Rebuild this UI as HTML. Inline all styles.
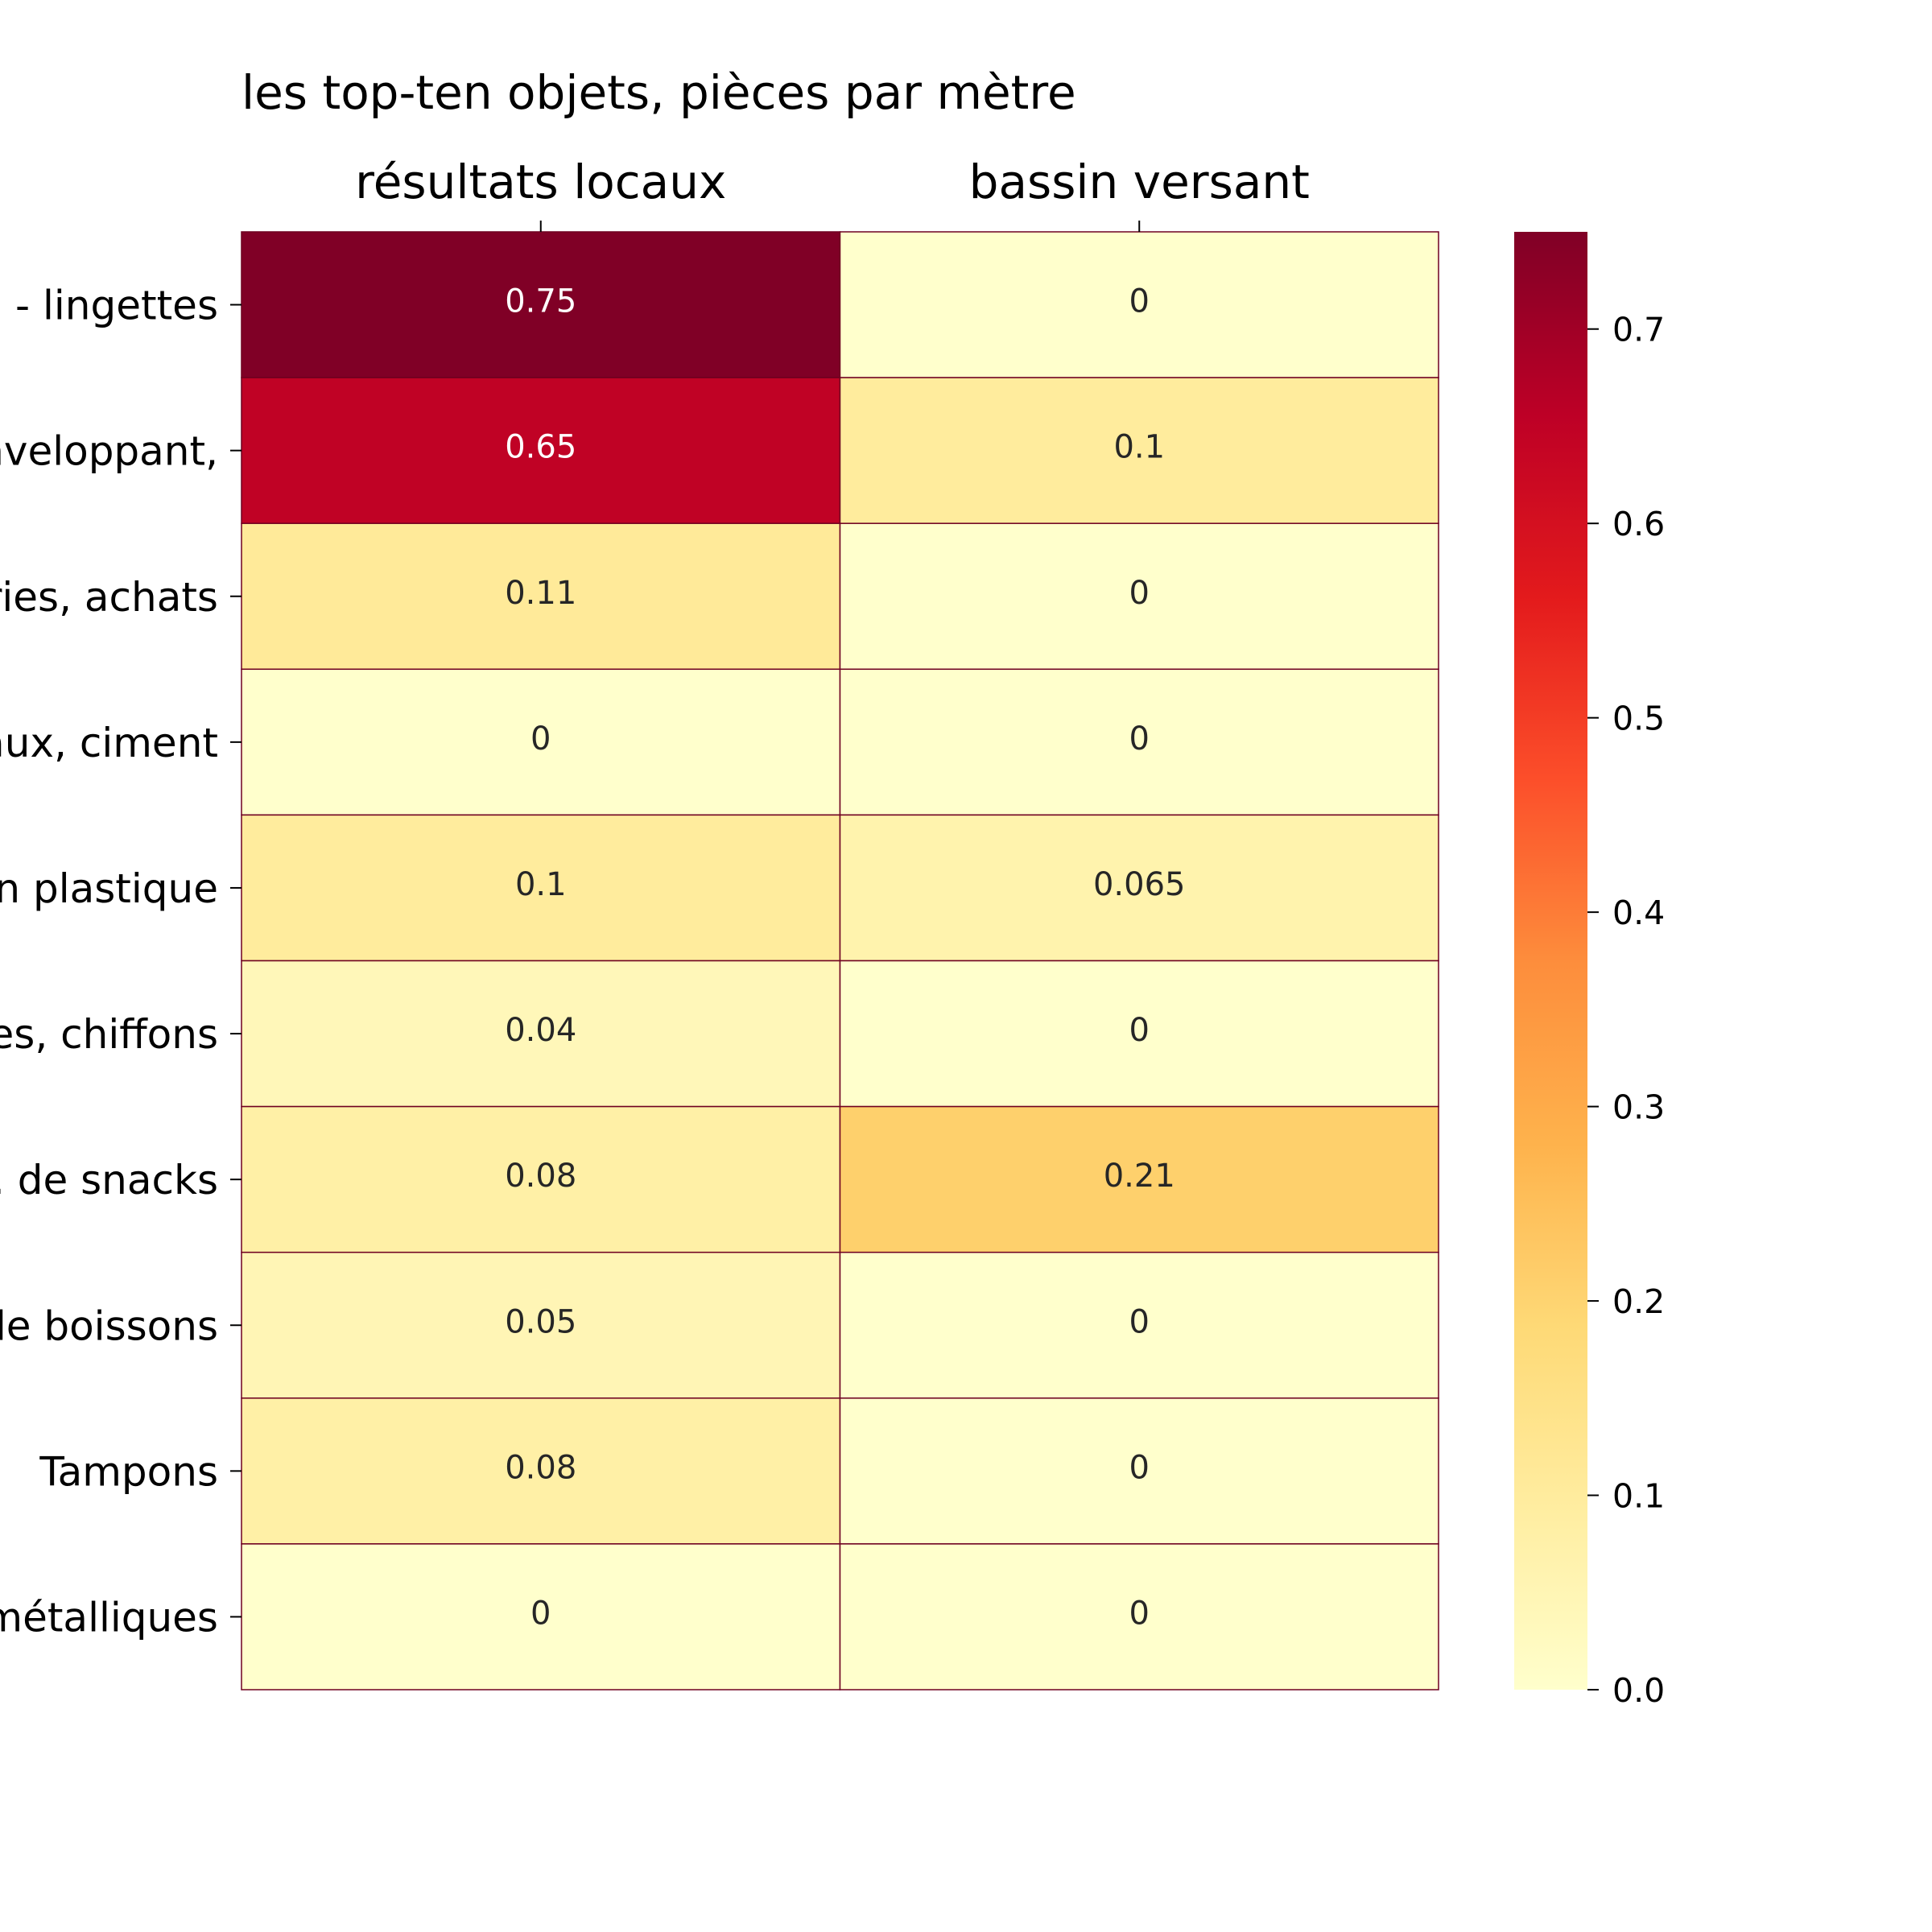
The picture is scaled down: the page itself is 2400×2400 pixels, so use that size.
<!DOCTYPE html>
<html><head><meta charset="utf-8"><style>
html,body{margin:0;padding:0;background:#fff;}
svg{display:block;font-family:"DejaVu Sans","Liberation Sans",sans-serif;}
</style></head><body>
<svg id="chart" width="2400" height="2400" viewBox="0 0 2400 2400" xmlns="http://www.w3.org/2000/svg">
<text x="300" y="135" font-size="58" fill="#000">les top-ten objets, pièces par mètre</text>
<g id="cells"></g>
<g id="axes"></g>
<g id="cbar"></g>
</svg>
<script>
const categories = ["Lingettes humides\u00a0\u00a0\u00a0- lingettes","Plastique d'emballage enveloppant,","Sacs en plastique, épiceries, achats","Matériaux de construction: matériaux, ciment","Fragments en plastique","Tissus, serviettes, chiffons","Emballages de bonbons. de snacks","Bouchons de boissons","Tampons","Capsules métalliques"];
const columns = ["résultats locaux","bassin versant"];
const localValues = [0.75,0.65,0.11,0,0.1,0.04,0.08,0.05,0.08,0];
const basinValues = [0,0.1,0,0,0.065,0,0.21,0,0,0];
const cbarTicks = [0.0,0.1,0.2,0.3,0.4,0.5,0.6,0.7];
const vmin = 0, vmax = 0.75;

const NS="http://www.w3.org/2000/svg";
const L=300,R=1787,T=288,B=2099;
const rowH=(B-T)/categories.length, colW=(R-L)/columns.length;
const yRow=i=>T+i*rowH, xCol=j=>L+j*colW;
const stops=["#ffffcc","#ffeda0","#fed976","#feb24c","#fd8d3c","#fc4e2a","#e31a1c","#bd0026","#800026"];
function hex(h){return [1,3,5].map(k=>parseInt(h.substr(k,2),16));}
function cmap(v){let t=Math.max(0,Math.min(1,(v-vmin)/(vmax-vmin)))*(stops.length-1);let i=Math.min(Math.floor(t),stops.length-2),f=t-i;const a=hex(stops[i]),b=hex(stops[i+1]);return "rgb("+a.map((c,k)=>Math.round(c+(b[k]-c)*f)).join(",")+")";}
function lum(v){return (v-vmin)/(vmax-vmin);}
function mk(tag,attrs,parent){const e=document.createElementNS(NS,tag);for(const k in attrs)e.setAttribute(k,attrs[k]);parent.appendChild(e);return e;}

const cells=document.getElementById('cells'), axes=document.getElementById('axes'), cbar=document.getElementById('cbar');
const series=[localValues,basinValues];
series.forEach((vals,j)=>{
  vals.forEach((v,i)=>{
    const r=mk('rect',{x:xCol(j),y:yRow(i),width:colW,height:rowH,fill:cmap(v),stroke:"#6e0020","stroke-width":1.5},cells);
    
    
    const t=mk('text',{x:xCol(j)+colW/2,y:yRow(i)+rowH/2-4,"font-size":40,"text-anchor":"middle","dominant-baseline":"central",fill:lum(v)>0.6?"#ffffff":"#262626"},cells);
    t.textContent=String(v);
    
    
  });
});
categories.forEach((c,i)=>{
  const yc=yRow(i)+rowH/2;
  const tk=mk('line',{x1:L-14,x2:L,y1:yc,y2:yc,stroke:"#000","stroke-width":2},axes);
  
  
  const t=mk('text',{x:L-29,y:yc+18,"font-size":50,"text-anchor":"end",fill:"#000"},axes);
  t.textContent=c;
  
  
});
columns.forEach((c,j)=>{
  const xc=xCol(j)+colW/2;
  const tk=mk('line',{x1:xc,x2:xc,y1:T-14,y2:T,stroke:"#000","stroke-width":2},axes);
  
  
  const t=mk('text',{x:xc,y:246,"font-size":58,"text-anchor":"middle",fill:"#000"},axes);
  t.textContent=c;
  
  
});
const CL=1881,CR=1972;
const defs=mk('defs',{},cbar);
const g=mk('linearGradient',{id:"cg",x1:0,y1:1,x2:0,y2:0},defs);
for(let k=0;k<=40;k++){const v=vmin+(vmax-vmin)*k/40;mk('stop',{offset:(k/40),"stop-color":cmap(v)},g);}
const cr=mk('rect',{x:CL,y:T,width:CR-CL,height:B-T,fill:"url(#cg)"},cbar);


const yC=v=>B-(v-vmin)/(vmax-vmin)*(B-T);
cbarTicks.forEach(v=>{
  const y=yC(v);
  const tk=mk('line',{x1:CR,x2:CR+14,y1:y,y2:y,stroke:"#000","stroke-width":2},cbar);
  
  
  const t=mk('text',{x:2003,y:y+15,"font-size":41,fill:"#000"},cbar);
  t.textContent=v.toFixed(1);
  
  
});
</script>
</body></html>
